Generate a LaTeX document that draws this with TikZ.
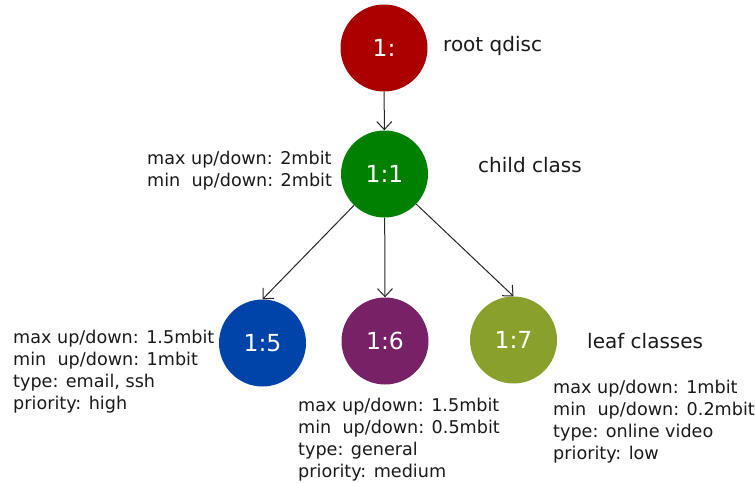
\documentclass[tikz,border=0pt]{standalone}
\usepackage{fontspec}
\setmainfont{DejaVu Sans}
\usepackage{tikz}
\usetikzlibrary{arrows.meta}
\definecolor{rootred}{HTML}{AA0000}
\definecolor{childgreen}{HTML}{008000}
\definecolor{leafblue}{HTML}{0044AA}
\definecolor{leafpurple}{HTML}{782167}
\definecolor{leafolive}{HTML}{89A02C}
\definecolor{txt}{HTML}{1A1A1A}
\tikzset{
    qnode/.style={circle, minimum size=87pt, inner sep=0pt, text=white,
        font=\fontsize{23.5}{28}\selectfont},
    tag/.style={anchor=base west, inner sep=0pt, text=txt,
        font=\fontsize{20}{24}\selectfont},
    info/.style={anchor=base west, align=left, inner sep=0pt, text=txt,
        font=\fontsize{17.6}{22}\selectfont},
    link/.style={draw=black!85, line width=1pt,
        -{Straight Barb[length=8pt,width=15pt]}},
}

\begin{document}
\begin{tikzpicture}[x=1pt, y=-1pt]
	\useasboundingbox (0,0) rectangle (755,482);
	\node[qnode, fill=rootred] (root) at (384,48) {1:};
	\node[qnode, fill=childgreen] (c11) at (384.5,174) {1:1};
	\node[qnode, fill=leafblue] (c15) at (262.5,343) {1:5};
	\node[qnode, fill=leafpurple] (c16) at (385,341) {1:6};
	\node[qnode, fill=leafolive] (c17) at (513.5,340) {1:7};
	\node[tag] (roottag) at (443,51) {root qdisc};
	\node[tag] (childtag) at (478,172) {child class};
	\node[tag] (leaftag) at (587,348) {leaf classes};
	% base anchor sits on the last line
	\node[info] (c11info) at (147,186) {max up/down: 2mbit\\min\ \ up/down: 2mbit};
	\node[info] (c15info) at (13,409) {max up/down: 1.5mbit\\min\ \ up/down: 1mbit\\type: email, ssh\\priority: high};
	\node[info] (c16info) at (298,477) {max up/down: 1.5mbit\\min\ \ up/down: 0.5mbit\\type: general\\priority: medium};
	\node[info] (c17info) at (553,459) {max up/down: 1mbit\\min\ \ up/down: 0.2mbit\\type: online video\\priority: low};
	\path[link] (root) -- (c11);
	\path[link] (c11) -- (c15.north);
	\path[link] (c11) -- (c16.north);
	\path[link] (c11) -- (c17.north);
\end{tikzpicture}
\end{document}
